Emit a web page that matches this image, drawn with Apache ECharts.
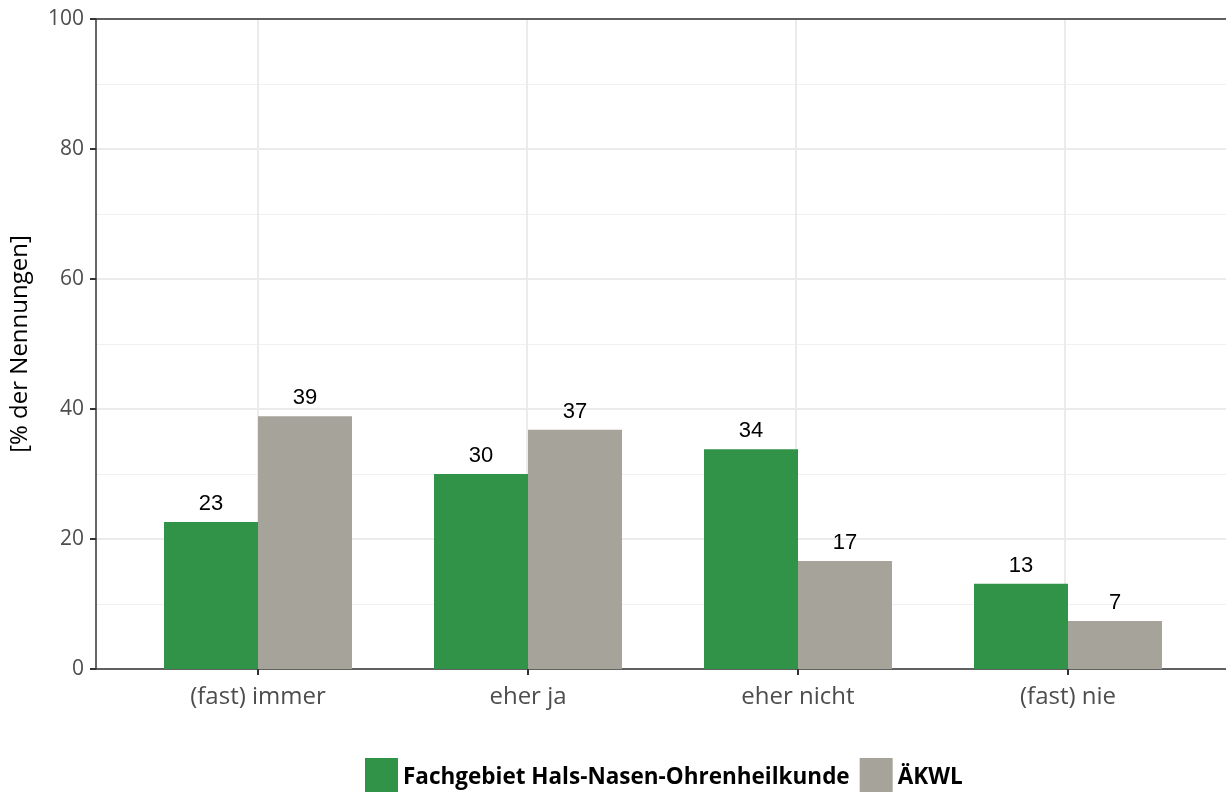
<!DOCTYPE html>
<html>
<head>
<meta charset="utf-8">
<script src="https://cdn.jsdelivr.net/npm/echarts@6/dist/echarts.min.js"></script>
<style>html,body{margin:0;padding:0;background:#fff}#c{width:1226px;height:792px}</style>
</head>
<body>
<div id="c"></div>
<script>
const categories = ['(fast) immer', 'eher ja', 'eher nicht', '(fast) nie'];
const seriesNames = ['Fachgebiet Hals-Nasen-Ohrenheilkunde', 'ÄKWL'];
const hnoValues = [22.6, 30.0, 33.8, 13.1];
const aekwlValues = [38.9, 36.8, 16.6, 7.4];
const yTicks = [0, 20, 40, 60, 80, 100];

const chart = echarts.init(document.getElementById('c'));
const font = "'Open Sans', sans-serif";
const labelCfg = {
  show: true, position: 'top', distance: 7, color: '#000',
  fontFamily: "'Liberation Sans', Arial, sans-serif", fontSize: 22,
  formatter: p => Math.round(p.value)
};
chart.setOption({
  animation: false,
  legend: {
    left: 360, top: 753, itemWidth: 33, itemHeight: 40, itemGap: 10,
    icon: 'rect',
    textStyle: { fontFamily: font, fontWeight: 'bold', fontSize: 22.5, color: '#000' },
    data: seriesNames
  },
  grid: [
    { left: 96, top: 19, width: 1133, height: 650 },
    { left: 123, top: 19, width: 1080, height: 650 }
  ],
  xAxis: [
    { gridIndex: 0, type: 'value', min: 0.4, max: 4.6, position: 'bottom',
      axisLine: { show: true, onZero: false, lineStyle: { color: '#333', width: 1.5 } },
      axisTick: { show: false }, axisLabel: { show: false }, splitLine: { show: false } },
    { gridIndex: 1, type: 'category', data: categories, position: 'bottom',
      axisLine: { show: false },
      axisTick: { show: true, alignWithLabel: true, length: 6, lineStyle: { color: '#333', width: 2 } },
      axisLabel: { fontFamily: font, fontSize: 24, color: '#4d4d4d', margin: 16 },
      splitLine: { show: false } },
    { gridIndex: 0, type: 'value', min: 0.4, max: 4.6, position: 'top',
      axisLine: { show: true, onZero: false, lineStyle: { color: '#333', width: 1.5 } },
      axisTick: { show: false }, axisLabel: { show: false }, splitLine: { show: false } }
  ],
  yAxis: [
    { gridIndex: 0, type: 'value', min: 0, max: 100, interval: 20,
      name: '[% der Nennungen]', nameLocation: 'middle', nameGap: 64, nameRotate: 90,
      nameTextStyle: { fontFamily: font, fontSize: 24, color: '#000' },
      axisLine: { show: true, lineStyle: { color: '#333', width: 1.5 } },
      axisTick: { show: true, length: 6, lineStyle: { color: '#333', width: 2 } },
      axisLabel: { fontFamily: font, fontSize: 21, color: '#4d4d4d', margin: 12,
        formatter: v => yTicks.includes(v) ? String(v) : '' },
      splitLine: { show: true, lineStyle: { color: '#ebebeb', width: 2 } },
      minorTick: { show: false, splitNumber: 2 },
      minorSplitLine: { show: true, lineStyle: { color: '#f0f0f0', width: 1 } } },
    { gridIndex: 1, type: 'value', min: 0, max: 100, show: false, splitLine: { show: false } }
  ],
  series: [
    { type: 'line', xAxisIndex: 0, yAxisIndex: 0, data: [], silent: true,
      markLine: { silent: true, symbol: 'none', z: 0, label: { show: false },
        lineStyle: { color: '#ebebeb', width: 2, type: 'solid' },
        data: categories.map((c, i) => ({ xAxis: i + 1 })) } },
    { name: seriesNames[0], type: 'bar', xAxisIndex: 1, yAxisIndex: 1, data: hnoValues,
      barWidth: 94, barGap: '0%', itemStyle: { color: '#319347' }, label: labelCfg, z: 3 },
    { name: seriesNames[1], type: 'bar', xAxisIndex: 1, yAxisIndex: 1, data: aekwlValues,
      barWidth: 94, barGap: '0%', itemStyle: { color: '#a6a39b' }, label: labelCfg, z: 3 }
  ]
});
</script>
</body>
</html>
